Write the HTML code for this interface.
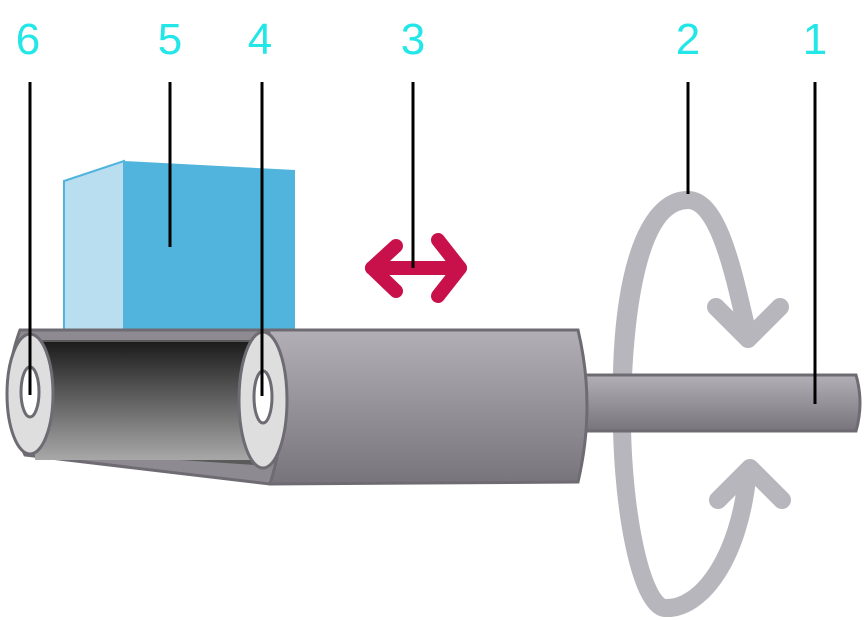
<!DOCTYPE html>
<html><head><style>body{margin:0;background:#fff}svg{display:block}</style></head><body>
<svg width="864" height="620" viewBox="0 0 864 620" xmlns="http://www.w3.org/2000/svg">
<defs>
<linearGradient id="g1" x1="0" y1="0" x2="0" y2="1"><stop offset="0" stop-color="#b2b0b6"/><stop offset="1" stop-color="#77757b"/></linearGradient>
<linearGradient id="g2" x1="0" y1="0" x2="0" y2="1"><stop offset="0" stop-color="#1c1c1c"/><stop offset="1" stop-color="#a8a8a8"/></linearGradient>
</defs>
<path d="M688 200 C640 200 625 300 622 400 C620 500 640 606 665 608 C700 610 740 560 748 470" fill="none" stroke="#b8b6bd" stroke-width="18" stroke-linecap="round"/>
<path d="M718 500 L750 468 L782 500" fill="none" stroke="#b8b6bd" stroke-width="18" stroke-linecap="round" stroke-linejoin="round"/>
<polygon points="64,181 124,161 124,332 64,332" fill="#b9def0" stroke="#50b4dd" stroke-width="2"/>
<polygon points="124,161 295,170 295,332 124,332" fill="#50b4dd"/>
<path d="M585 375 L856 375 Q864 403 856 431 L585 431 Z" fill="url(#g1)" stroke="#6e6c72" stroke-width="3"/>
<path d="M268 330 L578 330 Q596 405 578 482 L270 484 Q250 405 268 330 Z" fill="url(#g1)" stroke="#6e6c72" stroke-width="3"/>
<path d="M20 330 L268 330 Q295 405 270 484 L25 455 Q-4 395 20 330 Z" fill="#8d8b91" stroke="#6e6c72" stroke-width="3"/>
<path d="M30 340 L255 340 L255 465 L30 450 Z" fill="#5a5a5a"/>
<rect x="35" y="342" width="220" height="118" fill="url(#g2)"/>
<ellipse cx="30" cy="394" rx="23" ry="60" fill="#dededf" stroke="#6e6c72" stroke-width="3"/>
<ellipse cx="30" cy="392" rx="9" ry="25" fill="#fff" stroke="#6e6c72" stroke-width="3"/>
<ellipse cx="263" cy="400" rx="24" ry="68" fill="#dededf" stroke="#6e6c72" stroke-width="3"/>
<ellipse cx="263" cy="397" rx="9" ry="26" fill="#fff" stroke="#6e6c72" stroke-width="3"/>
<path d="M622 400 C620 300 640 200 688 200 C720 200 735 280 748 335" fill="none" stroke="#b8b6bd" stroke-width="18" stroke-linecap="round"/>
<rect x="612" y="375" width="20" height="56" fill="url(#g1)"/>
<line x1="585" y1="375" x2="856" y2="375" stroke="#6e6c72" stroke-width="3"/>
<line x1="585" y1="431" x2="856" y2="431" stroke="#6e6c72" stroke-width="3"/>
<path d="M716 307 L748 339 L780 307" fill="none" stroke="#b8b6bd" stroke-width="18" stroke-linecap="round" stroke-linejoin="round"/>
<g fill="none" stroke="#c8114b" stroke-width="14" stroke-linecap="round" stroke-linejoin="round">
<line x1="372" y1="268" x2="460" y2="268"/>
<path d="M396 246 L372 268 L396 291"/>
<path d="M438 240 L460 268 L438 296"/>
</g>
<g stroke="#000" stroke-width="3">
<line x1="30" y1="82" x2="30" y2="395"/>
<line x1="170" y1="82" x2="170" y2="247"/>
<line x1="262" y1="82" x2="262" y2="396"/>
<line x1="413" y1="82" x2="413" y2="268"/>
<line x1="688" y1="82" x2="688" y2="194"/>
<line x1="815" y1="82" x2="815" y2="404"/>
</g>
<g fill="#22e6e8" font-family="Liberation Sans, sans-serif" font-size="44" text-anchor="middle">
<text x="28" y="54">6</text><text x="170" y="54">5</text><text x="260" y="54">4</text>
<text x="413" y="54">3</text><text x="688" y="54">2</text><text x="815" y="54">1</text>
</g>
</svg>
</body></html>
